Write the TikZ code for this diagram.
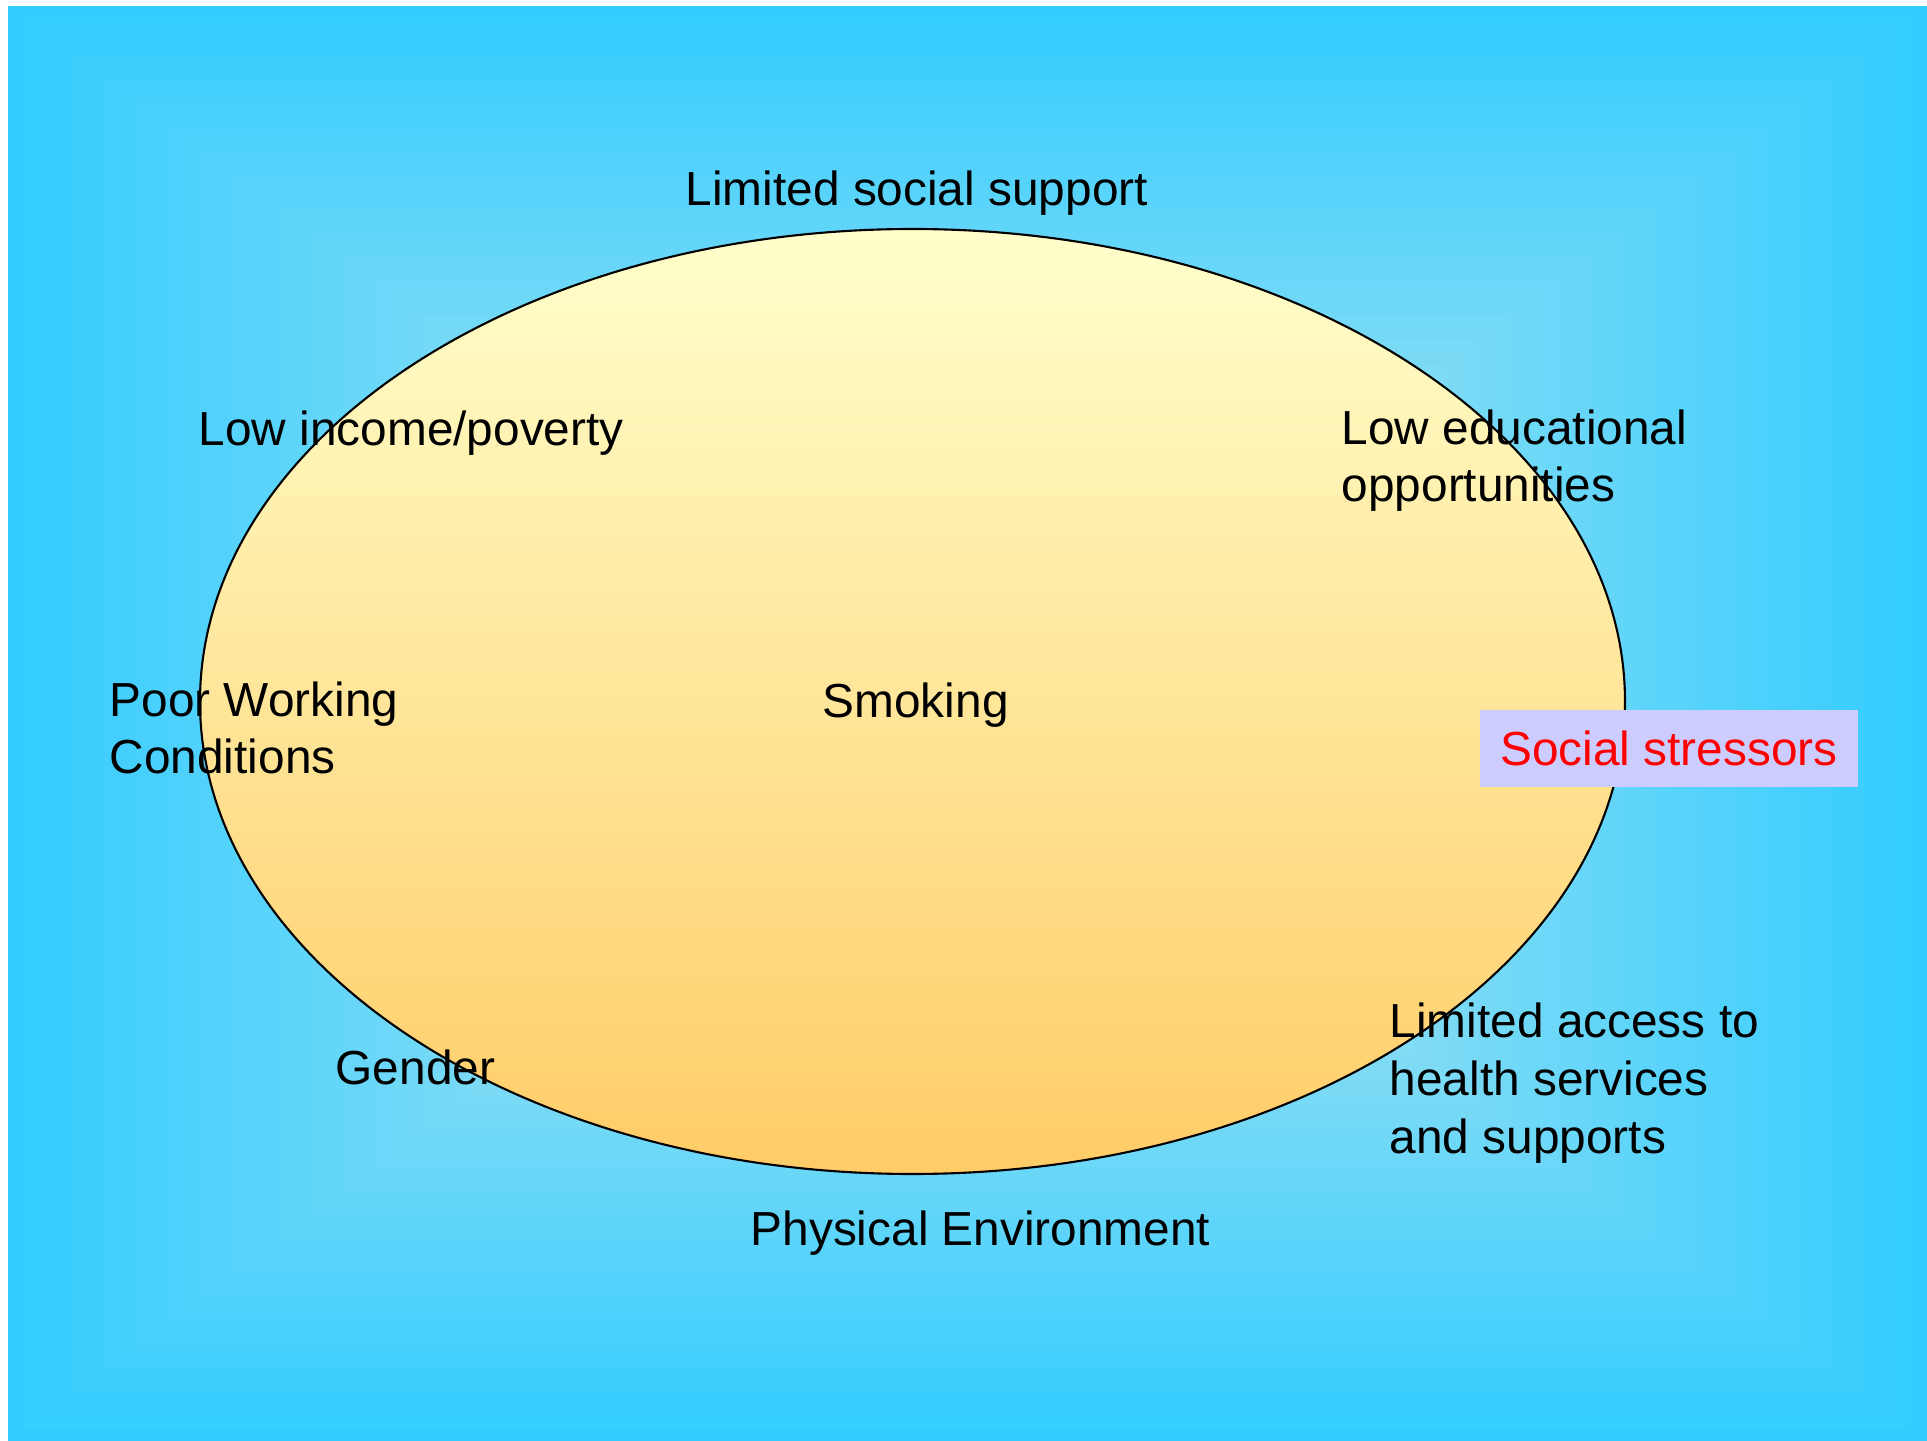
\documentclass[tikz,border=0pt]{standalone}
\usepackage{fontspec}
\setmainfont{Liberation Sans}
\usepackage{tikz}
\usetikzlibrary{shapes.geometric}
\usetikzlibrary{positioning}
\definecolor{skyedge}{HTML}{33CCFF}
\definecolor{skymid}{HTML}{C4E9EC}
\definecolor{paleyellow}{HTML}{FFFFCC}
\definecolor{goldyellow}{HTML}{FFCC66}
\definecolor{lavender}{HTML}{CCCCFF}
\newcommand{\lblfont}{\fontsize{13.6}{16.4}\selectfont}

\begin{document}
\begin{tikzpicture}%
                    \useasboundingbox (0,0) rectangle (19.27,-14.41);%%
                    %% sky background, lighter towards the middle
                    \foreach \i in {0,...,59}{%
                        \pgfmathsetmacro{\f}{1-\i/60}%
                        \pgfmathsetmacro{\p}{100*\i/59}%
                        \pgfmathsetmacro{\xa}{9.675-9.595*\f}%
                        \pgfmathsetmacro{\xb}{9.675+9.595*\f}%
                        \pgfmathsetmacro{\ya}{-7.235+7.175*\f}%
                        \pgfmathsetmacro{\yb}{-7.235-7.175*\f}%
                        \fill[skymid!\p!skyedge] (\xa,\ya) rectangle (\xb,\yb);%%
                    }
                    \node (oval) at (9.125,-7.015) [ellipse,draw,line width=.6pt,inner sep=0,minimum width=14.25cm,minimum height=9.45cm,top color=paleyellow,bottom color=goldyellow] {};%%
                    \begin{scope}
                        \tikzstyle{every node}=[anchor=base west,inner sep=0,align=left,font=\lblfont];%%
                        \node (social) at (6.85,-2.06) {Limited social support}; %%
                        \node (income) at (1.98,-4.46) {Low income/poverty}; %%
                        \node (educ) at (13.41,-5.02) {Low educational\\opportunities}; %%
                        \node (working) at (1.09,-7.74) {Poor Working\\Conditions}; %%
                        \node (smoking) at (8.22,-7.18) {Smoking}; %%
                        \node (gender) at (3.35,-10.85) {Gender}; %%
                        \node (physical) at (7.50,-12.45) {Physical Environment}; %%
                        \node (access) at (13.89,-11.53) {Limited access to\\health services\\and supports}; %%
                    \end{scope}
                        \node (stress) at (16.69,-7.485) [fill=lavender,text=red,inner sep=0,minimum width=3.78cm,minimum height=.77cm,font=\lblfont] {Social stressors}; %%
                    \end{tikzpicture}
\end{document}
